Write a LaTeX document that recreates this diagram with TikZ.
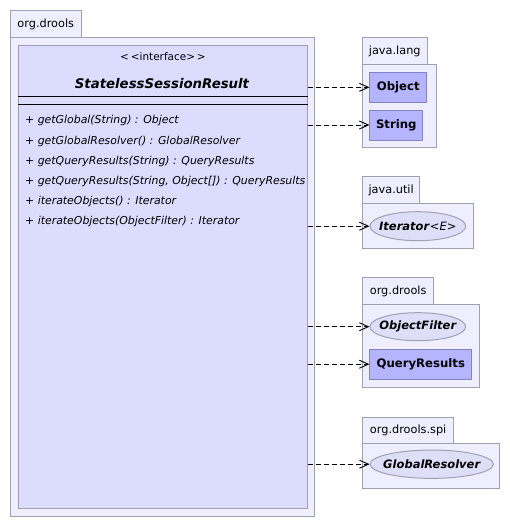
\documentclass[tikz,border=0pt]{standalone}
\usepackage{fontspec}
\setmainfont{DejaVu Sans}
\usepackage{xcolor}
\usepackage{tikz}
\usetikzlibrary{arrows.meta,positioning,shapes.geometric}

\definecolor{pkgfill}{HTML}{EEEEFF}
\definecolor{pkgline}{HTML}{A0A0B4}
\definecolor{clsfill}{HTML}{DCDCFF}
\definecolor{typefill}{HTML}{B4B4FF}
\definecolor{typeline}{HTML}{8484C0}
\definecolor{ifcfill}{HTML}{DEDEF8}

\begin{document}
\begin{tikzpicture}[
  x=1pt,y=-1pt,
  pkg/.style={draw=pkgline,fill=pkgfill,line width=1pt,anchor=north west,inner sep=0pt},
  tab/.style={pkg,font=\fontsize{11.3}{13}\selectfont},
  cls/.style={draw=pkgline,fill=clsfill,line width=1pt,anchor=north west,inner sep=0pt},
  typ/.style={draw=typeline,fill=typefill,line width=1pt,inner sep=0pt,font=\fontsize{11.7}{13}\selectfont\bfseries},
  ifc/.style={ellipse,draw=pkgline,fill=ifcfill,line width=1pt,inner xsep=-8pt,inner ysep=0pt,font=\fontsize{11.5}{13}\selectfont},
  meth/.style={anchor=west,inner sep=0pt,font=\fontsize{10.9}{12}\selectfont\itshape},
  dep/.style={-{Straight Barb[length=9pt,width=8pt]},dash pattern=on 5pt off 3pt,line width=0.9pt}
]
\useasboundingbox (0,0) rectangle (510,527);
% package org.drools with the interface
\node[tab,minimum width=70.5pt,minimum height=27pt] (droolstab) at (10,10) {org.drools};
\node[pkg,minimum width=304pt,minimum height=478.5pt] (drools) at (10,37) {};
\node[cls,minimum width=288.5pt,minimum height=462.5pt] (cls) at (18,45) {};
\node[inner sep=0pt,font=\fontsize{10.5}{12}\selectfont] (stereo) at (163,57) {<\,<interface>\,>};
\node[inner sep=0pt,font=\fontsize{13.3}{15}\selectfont\bfseries\itshape] (clsname) at (162,84) {StatelessSessionResult};
\draw[line width=1pt] (cls.west |- 0,96.3) -- (cls.east |- 0,96.3);
\draw[line width=1pt] (cls.west |- 0,104) -- (cls.east |- 0,104);
\node[meth] (m1) at (25,120) {+ getGlobal(String) : Object};
\node[meth] (m2) at (25,141) {+ getGlobalResolver() : GlobalResolver};
\node[meth] (m3) at (25,161.5) {+ getQueryResults(String) : QueryResults};
\node[meth] (m4) at (25,181.5) {+ getQueryResults(String, Object[]) : QueryResults};
\node[meth] (m5) at (25,201.5) {+ iterateObjects() : Iterator};
\node[meth] (m6) at (25,221.5) {+ iterateObjects(ObjectFilter) : Iterator};
% package java.lang
\node[tab,minimum width=64.5pt,minimum height=27pt] (langtab) at (362,37) {java.lang};
\node[pkg,minimum width=73.5pt,minimum height=83.3pt] (lang) at (362,64) {};
\node[typ,minimum width=56.7pt,minimum height=30pt] (obj) at (398.3,87.3) {Object};
\node[typ,minimum width=52.7pt,minimum height=30pt] (str) at (396.3,125) {String};
% package java.util
\node[tab,minimum width=57.3pt,minimum height=27.3pt] (utiltab) at (362,176) {java.util};
\node[pkg,minimum width=110.7pt,minimum height=45pt] (util) at (362,203.3) {};
\node[ifc,minimum width=95.7pt,minimum height=29pt] (iter) at (417.8,226.2) {\textbf{\textit{Iterator}}\textit{<E>}};
% package org.drools
\node[tab,minimum width=71.3pt,minimum height=27pt] (drools2tab) at (362,277.3) {org.drools};
\node[pkg,minimum width=117.3pt,minimum height=83pt] (drools2) at (362,304.3) {};
\node[ifc,minimum width=95.7pt,minimum height=28pt,font=\fontsize{11.5}{13}\selectfont\bfseries\itshape] (filter) at (417.8,326.7) {ObjectFilter};
\node[typ,minimum width=101.7pt,minimum height=30.3pt] (query) at (420.8,364.2) {QueryResults};
% package org.drools.spi
\node[tab,minimum width=91.3pt,minimum height=26.6pt] (spitab) at (362,416.7) {org.drools.spi};
\node[pkg,minimum width=137.3pt,minimum height=45pt] (spi) at (362,443.3) {};
\node[ifc,minimum width=123.3pt,minimum height=28.3pt,font=\fontsize{11.5}{13}\selectfont\bfseries\itshape] (resolver) at (431.7,464.2) {GlobalResolver};
% dependencies
\foreach \t in {obj,str,iter,filter,query,resolver}
  \draw[dep] (cls.east |- \t) -- (\t);
\end{tikzpicture}
\end{document}
